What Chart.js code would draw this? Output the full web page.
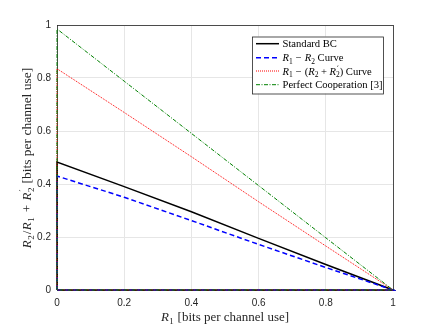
<!DOCTYPE html>
<html><head><meta charset="utf-8">
<script src="https://cdn.jsdelivr.net/npm/chart.js@4"></script>
<style>html,body{margin:0;padding:0;background:#fff}#c{display:block}</style>
</head><body>
<div style="width:436px;height:327px;position:relative"><canvas id="c" width="436" height="327"></canvas></div>
<script>
// Data
const xVals = [0, 0, 0.2, 0.4, 0.6, 0.8, 1, 0];
const standardBC = [0, 0.483, 0.390, 0.295, 0.195, 0.096, 0, 0];
const r1r2Curve = [0, 0.430, 0.350, 0.262, 0.172, 0.085, 0, 0];
const r1r2r2pCurve = [0, 0.835, 0.670, 0.503, 0.333, 0.166, 0, 0];
const perfectCoop = [0, 0.985, 0.788, 0.591, 0.394, 0.197, 0, 0];
const xTicks = [0, 0.2, 0.4, 0.6, 0.8, 1];
const yTicks = [0, 0.2, 0.4, 0.6, 0.8, 1];

const pts = arr => arr.map((v, i) => ({x: xVals[i], y: v}));
const SERIF = '"Liberation Serif", "DejaVu Serif", serif';

function drawRich(ctx, pieces, x, y, align) {
  let w = 0;
  const widths = pieces.map(p => { ctx.font = p.font; const m = ctx.measureText(p.t).width + (p.sp || 0); if (!p.noAdv) w += m; return m; });
  let cx = align === 'center' ? x - w / 2 : x;
  ctx.textBaseline = 'alphabetic';
  ctx.textAlign = 'left';
  pieces.forEach((p, i) => {
    ctx.font = p.font;
    ctx.fillText(p.t, cx + (p.sp ? p.sp / 2 : 0) + (p.dx || 0), y + (p.dy || 0));
    if (!p.noAdv) cx += widths[i];
  });
}
const it = s => 'italic ' + s + 'px ' + SERIF;
const rm = s => s + 'px ' + SERIF;
const pr = s => s + 'px "DejaVu Serif", serif';

const boxPlugin = {
  id: 'box',
  beforeDatasetsDraw(chart) {
    const ctx = chart.ctx, a = chart.chartArea;
    ctx.save();
    ctx.strokeStyle = '#262626'; ctx.lineWidth = 0.8;
    ctx.strokeRect(a.left + 0.5, a.top + 0.5, a.right - a.left, a.bottom - a.top);
    ctx.restore();
  }
};

const overlay = {
  id: 'overlay',
  afterDraw(chart) {
    const ctx = chart.ctx, a = chart.chartArea;
    ctx.save();
    ctx.fillStyle = '#262626';
    // x title
    drawRich(ctx, [
      {t: 'R', font: it(13)}, {t: '1', font: rm(9), dy: 3, sp: 1},
      {t: ' [bits per channel use]', font: rm(13)}
    ], (a.left + a.right) / 2, 321, 'center');
    // y title
    ctx.save();
    ctx.translate(31, 158);
    ctx.rotate(-Math.PI / 2);
    drawRich(ctx, [
      {t: 'R', font: it(13)}, {t: '2', font: rm(9), dy: 3, sp: 1},
      {t: '/', font: rm(13), sp: 1},
      {t: 'R', font: it(13)}, {t: '1', font: rm(9), dy: 3, sp: 1},
      {t: '+', font: rm(13), sp: 9},
      {t: 'R', font: it(13)}, {t: '′', font: pr(9), dy: -5, dx: 1, noAdv: true}, {t: '2', font: rm(9), dy: 3, sp: 1},
      {t: ' [bits per channel use]', font: rm(13.5)}
    ], 0, 0, 'center');
    ctx.restore();
    // legend
    const lx = 252, ly = 36.5, lw = 131, lh = 57;
    ctx.fillStyle = '#fff';
    ctx.fillRect(lx, ly, lw, lh);
    ctx.strokeStyle = '#262626'; ctx.lineWidth = 0.8;
    ctx.strokeRect(lx + 0.5, ly + 0.5, lw, lh);
    const F = 10.6, S = 7.5;
    const rows = [
      {c: '#000', w: 1.5, d: [], p: [{t: 'Standard BC', font: rm(F)}]},
      {c: '#0000ff', w: 1.5, d: [5, 3], p: [{t: 'R', font: it(F)}, {t: '1', font: rm(S), dy: 2.5}, {t: '−', font: rm(F), sp: 6}, {t: 'R', font: it(F)}, {t: '2', font: rm(S), dy: 2.5}, {t: ' Curve', font: rm(F)}]},
      {c: '#ff0000', w: 1, d: [1, 1], p: [{t: 'R', font: it(F)}, {t: '1', font: rm(S), dy: 2.5}, {t: '−', font: rm(F), sp: 6}, {t: '(', font: rm(F)}, {t: 'R', font: it(F)}, {t: '2', font: rm(S), dy: 2.5}, {t: '+', font: rm(F), sp: 5}, {t: 'R', font: it(F)}, {t: '′', font: pr(7.5), dy: -4, dx: 1, noAdv: true}, {t: '2', font: rm(S), dy: 2.5}, {t: ') Curve', font: rm(F)}]},
      {c: '#008000', w: 1, d: [4, 1.5, 1, 1.5], p: [{t: 'Perfect Cooperation [3]', font: rm(F)}]}
    ];
    const ys = [43.7, 57.7, 71, 84.7];
    rows.forEach((r, i) => {
      ctx.strokeStyle = r.c; ctx.lineWidth = r.w; ctx.setLineDash(r.d);
      ctx.beginPath(); ctx.moveTo(256, ys[i]); ctx.lineTo(279, ys[i]); ctx.stroke();
      ctx.setLineDash([]);
      ctx.fillStyle = '#000';
      drawRich(ctx, r.p, 282.5, ys[i] + 3.5, 'left');
    });
    ctx.restore();
  }
};

const fmt = v => String(+(+v).toFixed(1));

new Chart(document.getElementById('c'), {
  type: 'scatter',
  data: {
    datasets: [
      {label: 'Standard BC', data: pts(standardBC), borderColor: '#000', borderWidth: 1.5, order: 4},
      {label: 'R1 - R2 Curve', data: pts(r1r2Curve), borderColor: '#0000ff', borderWidth: 1.5, borderDash: [5, 3], order: 3},
      {label: 'R1 - (R2 + R2\') Curve', data: pts(r1r2r2pCurve), borderColor: '#ff0000', borderWidth: 1, borderDash: [1, 1], order: 2},
      {label: 'Perfect Cooperation [3]', data: pts(perfectCoop), borderColor: '#008000', borderWidth: 1, borderDash: [4, 1.5, 1, 1.5], order: 1}
    ].map(d => Object.assign(d, {showLine: true, pointRadius: 0, fill: false, tension: 0, clip: 3}))
  },
  options: {
    responsive: false, animation: false,
    layout: {padding: {left: 0, right: 43, top: 25, bottom: 0}},
    plugins: {legend: {display: false}, tooltip: {enabled: false}},
    scales: {
      x: {
        type: 'linear', min: 0, max: 1,
        afterBuildTicks: s => { s.ticks = xTicks.map(v => ({value: v})); },
        afterFit: s => { s.height = 37; },
        grid: {color: '#e6e6e6', drawTicks: false},
        border: {display: false},
        ticks: {color: '#262626', font: {family: '"Liberation Sans", Arial, sans-serif', size: 10}, padding: 7, callback: fmt}
      },
      y: {
        type: 'linear', min: 0, max: 1,
        afterBuildTicks: s => { s.ticks = yTicks.map(v => ({value: v})); },
        afterFit: s => { s.width = 57; },
        grid: {color: '#e6e6e6', drawTicks: false},
        border: {display: false},
        ticks: {color: '#262626', font: {family: '"Liberation Sans", Arial, sans-serif', size: 10}, padding: 6, callback: fmt}
      }
    }
  },
  plugins: [boxPlugin, overlay]
});
</script>
</body></html>
